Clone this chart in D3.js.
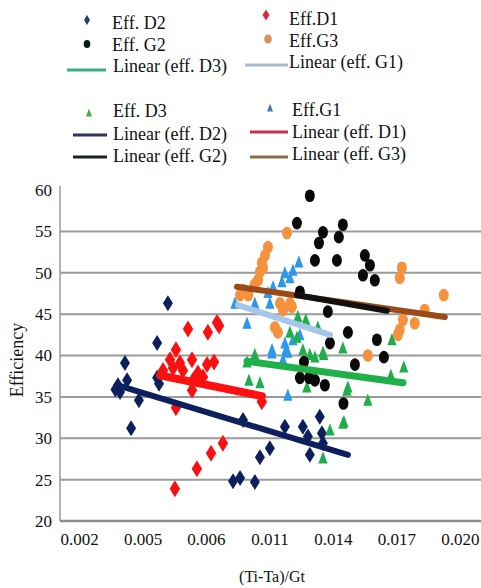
<!DOCTYPE html>
<html>
<head>
<meta charset="utf-8">
<script src="https://cdn.jsdelivr.net/npm/d3@7"></script>
<style>
    body { margin: 0; background: #fff; }
    text { font-family: "Liberation Serif", "Times New Roman", serif; fill: #111; }
</style>
</head>
<body>
<div id="chart"></div>
<script>
// Tick values and the labels as they are printed on the chart
const xTickValues = [0.002, 0.005, 0.008, 0.011, 0.014, 0.017, 0.020];
const xTickLabels = ["0.002", "0.005", "0.006", "0.011", "0.014", "0.017", "0.020"];
const yTickValues = [20, 25, 30, 35, 40, 45, 50, 55, 60];

// Points: [(Ti-Ta)/Gt, efficiency]
const effD2 = [[0.00620, 46.3], [0.00569, 41.5], [0.00417, 39.1], [0.00384, 36.4], [0.00427, 37.0],
    [0.00394, 35.6], [0.00372, 35.9], [0.00483, 34.6], [0.00446, 31.2], [0.00569, 37.3], [0.00578, 36.6],
    [0.00975, 32.2], [0.00928, 24.8], [0.00961, 25.2], [0.01031, 24.7], [0.01055, 27.7], [0.01102, 28.8],
    [0.01173, 31.4], [0.01258, 31.4], [0.01282, 30.2], [0.01291, 28.0], [0.01338, 32.6], [0.01348, 30.6],
    [0.01353, 29.4]];
const effD1 = [[0.00715, 43.2], [0.00809, 42.8], [0.00852, 44.0], [0.00862, 43.6], [0.00658, 40.7],
    [0.00630, 39.5], [0.00677, 39.1], [0.00734, 39.5], [0.00597, 38.2], [0.00644, 38.5], [0.00691, 38.2],
    [0.00762, 37.9], [0.00805, 38.9], [0.00838, 39.2], [0.00734, 35.8], [0.00739, 37.0], [0.00786, 37.4],
    [0.00658, 33.7], [0.00880, 29.4], [0.00824, 28.2], [0.00757, 26.3], [0.00653, 23.9], [0.01064, 34.4]];
const effG2 = [[0.01291, 59.3], [0.01230, 56.0], [0.01353, 54.9], [0.01334, 53.6], [0.01447, 55.8],
    [0.01428, 54.3], [0.01315, 51.5], [0.01419, 51.5], [0.01551, 52.1], [0.01575, 50.9], [0.01542, 49.7],
    [0.01598, 49.1], [0.01244, 47.7], [0.01376, 45.3], [0.01471, 42.8], [0.01386, 41.5], [0.01608, 41.9],
    [0.01641, 39.8], [0.01504, 38.9], [0.01450, 34.2], [0.01263, 39.2], [0.01244, 37.3], [0.01287, 37.3],
    [0.01315, 37.0], [0.01362, 36.4]];
const effG3 = [[0.01183, 54.8], [0.01093, 53.1], [0.01079, 52.1], [0.01064, 51.2], [0.01070, 50.6],
    [0.01055, 50.1], [0.01046, 49.1], [0.01030, 48.6], [0.00961, 47.3], [0.00975, 47.9], [0.01000, 47.3],
    [0.01150, 46.3], [0.01197, 46.3], [0.01164, 45.5], [0.01206, 45.9], [0.01126, 43.4], [0.01140, 42.8],
    [0.01565, 40.0], [0.01726, 50.6], [0.01716, 49.4], [0.01924, 47.3], [0.01834, 45.5], [0.01787, 43.9],
    [0.01731, 44.3], [0.01716, 43.1], [0.01707, 42.5]];
const effD3 = [[0.01003, 37.0], [0.01055, 36.7], [0.01258, 40.7], [0.01315, 39.8], [0.01357, 40.1],
    [0.01447, 40.9], [0.01277, 36.2], [0.01466, 35.8], [0.01565, 34.6], [0.01447, 31.8], [0.01386, 31.0],
    [0.01353, 27.6], [0.01679, 41.9], [0.01735, 38.6], [0.01674, 37.6], [0.01471, 36.2], [0.01452, 32.0],
    [0.01234, 44.7], [0.01272, 44.3], [0.01197, 42.8], [0.01230, 42.2], [0.01329, 43.4], [0.01353, 40.4],
    [0.01291, 40.1], [0.00994, 39.2], [0.01031, 40.1]];
const effG1 = [[0.01239, 51.3], [0.01173, 50.0], [0.01211, 50.3], [0.01197, 49.4], [0.01159, 48.9],
    [0.01117, 48.3], [0.01093, 47.6], [0.01102, 46.3], [0.01031, 46.3], [0.00937, 46.3], [0.00994, 43.9],
    [0.01112, 40.7], [0.01173, 41.5], [0.01187, 40.4], [0.01031, 39.8], [0.01112, 40.3], [0.01178, 40.7],
    [0.01211, 41.9], [0.01244, 42.5], [0.01187, 35.2], [0.01164, 39.5]];

// Linear trend lines, end points
const trendD1 = [[0.00583, 37.6], [0.01064, 35.1]];
const trendD2 = [[0.00384, 36.4], [0.01471, 28.0]];
const trendD3 = [[0.00994, 39.3], [0.01731, 36.7]];
const trendG1 = [[0.00951, 46.1], [0.01386, 42.5]];
const trendG2 = [[0.01230, 47.3], [0.01655, 45.4]];
const trendG3 = [[0.00946, 48.3], [0.01929, 44.65]];

const W = 481, H = 588;
const plot = { left: 60, right: 481, top: 190, bottom: 521 };

const svg = d3.select("#chart").append("svg")
    .attr("width", W)
    .attr("height", H);

const x = d3.scaleLinear().domain([0.0011, 0.021]).range([plot.left, plot.right]);
const y = d3.scaleLinear().domain([20, 60]).range([plot.bottom, plot.top]);

// marker paths (the source picture is a little stretched vertically)
const shapes = {
    diamond: (w, h) => `M0,${-h}L${w},0L0,${h}L${-w},0Z`,
    triangle: (w, h) => `M0,${-h}L${w},${h * 0.8}L${-w},${h * 0.8}Z`,
    ellipse: (rx, ry) => `M${rx},0A${rx},${ry} 0 1,1 ${-rx},0A${rx},${ry} 0 1,1 ${rx},0Z`
};

const pointSeries = [
    { data: effD2, color: "#0d1f5c", path: shapes.diamond(5, 8) },
    { data: effD1, color: "#fa1010", path: shapes.diamond(5.2, 8.5) },
    { data: effG3, color: "#f5923e", path: shapes.ellipse(5, 6.3) },
    { data: effG1, color: "#2b98ea", path: shapes.triangle(4.6, 6.8) },
    { data: effD3, color: "#1fae4b", path: shapes.triangle(4.6, 6.8) },
    { data: effG2, color: "#0a0a0a", path: shapes.ellipse(5, 6.3) }
];

const trendSeries = [
    { data: trendG3, color: "#9a4b17", width: 6 },
    { data: trendG1, color: "#a6c6ec", width: 6 },
    { data: trendG2, color: "#111111", width: 6 },
    { data: trendD3, color: "#1fb04a", width: 7 },
    { data: trendD1, color: "#ff1010", width: 8 },
    { data: trendD2, color: "#0d1f5c", width: 6 }
];

// gridlines
svg.append("g")
    .selectAll("line")
    .data(yTickValues.filter(v => v > 20 && v < 60))
    .enter().append("line")
    .attr("x1", plot.left).attr("x2", plot.right)
    .attr("y1", d => y(d)).attr("y2", d => y(d))
    .attr("stroke", "#9a9a9a")
    .attr("stroke-width", 2);

// y axis
const yAxis = svg.append("g")
    .attr("transform", `translate(${plot.left},0)`)
    .call(d3.axisLeft(y).tickValues(yTickValues).tickSize(0).tickPadding(8));
yAxis.select(".domain").remove();
yAxis.selectAll("text")
    .style("font-family", "Liberation Serif, serif")
    .style("font-size", "17px")
    .attr("fill", "#111");

svg.append("line")
    .attr("x1", plot.left).attr("x2", plot.left)
    .attr("y1", plot.top - 4).attr("y2", plot.bottom)
    .attr("stroke", "#9a9a9a")
    .attr("stroke-width", 1.5);

// x axis
const xAxis = svg.append("g")
    .attr("transform", `translate(0,${plot.bottom})`)
    .call(d3.axisBottom(x).tickValues(xTickValues).tickSize(0).tickPadding(12)
        .tickFormat((d, i) => xTickLabels[i]));
xAxis.select(".domain").remove();
xAxis.selectAll("text")
    .style("font-family", "Liberation Serif, serif")
    .style("font-size", "17px")
    .attr("fill", "#111");

svg.append("line")
    .attr("x1", plot.left).attr("x2", plot.right)
    .attr("y1", plot.bottom).attr("y2", plot.bottom)
    .attr("stroke", "#8c8c8c")
    .attr("stroke-width", 2.5);

// points
pointSeries.forEach(s => {
    svg.append("g")
        .selectAll("path")
        .data(s.data)
        .enter().append("path")
        .attr("d", s.path)
        .attr("transform", d => `translate(${x(d[0])},${y(d[1])})`)
        .attr("fill", s.color);
});

// trend lines
const line = d3.line()
    .x(d => x(d[0]))
    .y(d => y(d[1]));

trendSeries.forEach(s => {
    svg.append("path")
        .datum(s.data)
        .attr("fill", "none")
        .attr("stroke", s.color)
        .attr("stroke-width", s.width)
        .attr("stroke-linecap", "round")
        .attr("d", line);
});

// axis titles
svg.append("text")
    .attr("x", 272)
    .attr("y", 582)
    .attr("text-anchor", "middle")
    .style("font-size", "16px")
    .text("(Ti-Ta)/Gt");

svg.append("text")
    .attr("text-anchor", "middle")
    .attr("transform", "translate(23, 360) rotate(-90)")
    .style("font-size", "18px")
    .text("Efficiency");

// legend
const legendItems = [
    { label: "Eff. D2", kind: "marker", color: "#2a3a78", path: shapes.diamond(3, 5), mx: 87, my: 20, tx: 112, ty: 29 },
    { label: "Eff. G2", kind: "marker", color: "#0a1a1a", path: shapes.ellipse(3.3, 4), mx: 87, my: 44, tx: 112, ty: 51 },
    { label: "Linear (eff. D3)", kind: "line", color: "#3aae7e", x1: 67, x2: 106, my: 70, tx: 113, ty: 72 },
    { label: "Eff.D1", kind: "marker", color: "#d8283a", path: shapes.diamond(3.5, 5.5), mx: 266, my: 15, tx: 289, ty: 25 },
    { label: "Eff.G3", kind: "marker", color: "#d8905a", path: shapes.ellipse(3.8, 4.5), mx: 268, my: 39, tx: 289, ty: 47 },
    { label: "Linear (eff. G1)", kind: "line", color: "#a9bccf", x1: 245, x2: 288, my: 65, tx: 289, ty: 68 },
    { label: "Eff. D3", kind: "marker", color: "#4caa55", path: shapes.triangle(3, 4.5), mx: 89, my: 113, tx: 113, ty: 117 },
    { label: "Linear (eff. D2)", kind: "line", color: "#2a3560", x1: 73, x2: 107, my: 135, tx: 113, ty: 140 },
    { label: "Linear (eff. G2)", kind: "line", color: "#1e2226", x1: 73, x2: 107, my: 157, tx: 113, ty: 162 },
    { label: "Eff.G1", kind: "marker", color: "#4a78b8", path: shapes.triangle(3, 4.5), mx: 270, my: 108, tx: 292, ty: 116 },
    { label: "Linear (eff. D1)", kind: "line", color: "#c8304a", x1: 250, x2: 288, my: 132, tx: 292, ty: 138 },
    { label: "Linear (eff. G3)", kind: "line", color: "#8e6c48", x1: 250, x2: 288, my: 157, tx: 292, ty: 160 }
];

const legend = svg.append("g");
legendItems.forEach(d => {
    if (d.kind === "marker") {
        legend.append("path")
            .attr("d", d.path)
            .attr("transform", `translate(${d.mx},${d.my})`)
            .attr("fill", d.color);
    } else {
        legend.append("line")
            .attr("x1", d.x1).attr("x2", d.x2)
            .attr("y1", d.my).attr("y2", d.my)
            .attr("stroke", d.color)
            .attr("stroke-width", 3);
    }
    legend.append("text")
        .attr("x", d.tx)
        .attr("y", d.ty)
        .style("font-size", "18px")
        .text(d.label);
});
</script>
</body>
</html>
